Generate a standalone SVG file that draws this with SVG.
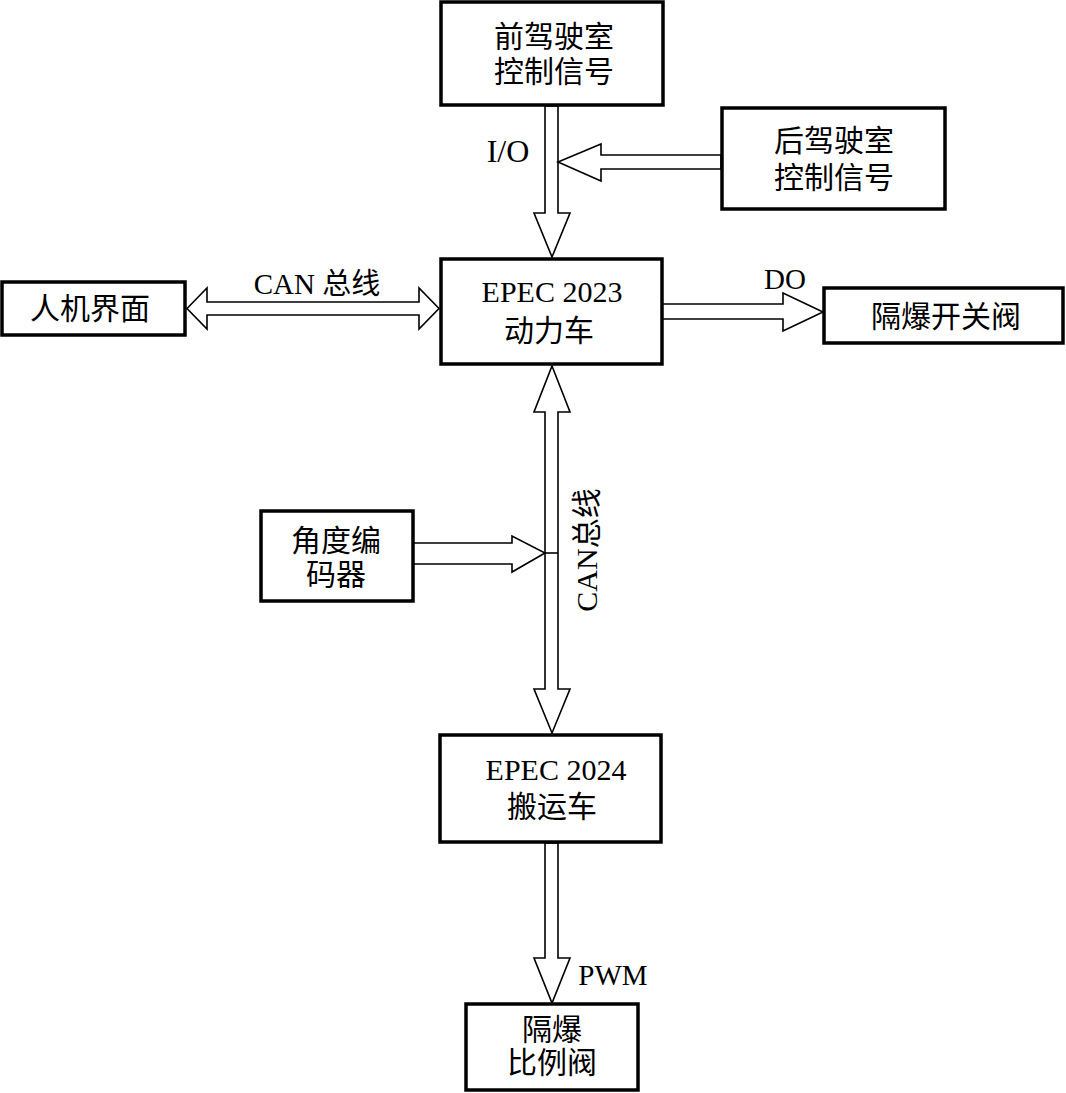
<svg xmlns="http://www.w3.org/2000/svg" width="1066" height="1093" viewBox="0 0 1066 1093">
<style>
.box{fill:#fff;stroke:#000;stroke-width:3.5}
.arr{fill:#fff;stroke:#000;stroke-width:1.6;stroke-linejoin:miter}
.t{font-family:"Liberation Serif","Noto Sans CJK SC",serif;font-size:30px;fill:#000;text-anchor:middle}
.l{font-family:"Liberation Serif","Noto Sans CJK SC",serif;font-size:29px;fill:#000;text-anchor:middle}
</style>
<rect width="1066" height="1093" fill="#fff"/>
<g id="connectors">
<polygon class="arr" points="545,106 545,213 534,213 552,257 570,213 558,213 558,106"/>
<polygon class="arr" points="721,155 601,155 601,144 558,162 601,181 601,169 721,169"/>
<polygon class="arr" points="187,308.5 207,288 207,302 419,302 419,288 439,308.5 419,329 419,315 207,315 207,329"/>
<polygon class="arr" points="662,304 783,304 783,293 823,312 783,331 783,319 662,319"/>
<polygon class="arr" points="552,366 570,412 558,412 558,689 570,689 552,733 534,689 545,689 545,412 534,412"/>
<polygon class="arr" points="413,543 512,543 512,536 545,553 512,572 512,564 413,564"/>
<line x1="545" y1="553" x2="558" y2="553" stroke="#000" stroke-width="1.6"/>
<polygon class="arr" points="545,843 545,958 534,958 552,1003 570,958 558,958 558,843"/>
<text class="l" x="508" y="162" style="font-size:32px">I/O</text>
<text class="l" x="317" y="294">CAN 总线</text>
<text class="l" x="785" y="289">DO</text>
<text class="l" x="613" y="985">PWM</text>
<text class="l" transform="translate(597,550) rotate(-90)" style="font-size:30px">CAN总线</text>
</g>
<g id="front-cab">
<rect class="box" x="441" y="2" width="222" height="103"/>
<text class="t" x="554" y="47">前驾驶室</text>
<text class="t" x="554" y="82">控制信号</text>
</g>
<g id="rear-cab">
<rect class="box" x="722" y="108" width="223" height="101"/>
<text class="t" x="834" y="151">后驾驶室</text>
<text class="t" x="834" y="188">控制信号</text>
</g>
<g id="epec2023">
<rect class="box" x="441" y="259" width="221" height="105"/>
<text class="t" x="552" y="302">EPEC 2023</text>
<text class="t" x="549" y="341">动力车</text>
</g>
<g id="hmi">
<rect class="box" x="2" y="282" width="183" height="53"/>
<text class="t" x="90" y="319">人机界面</text>
</g>
<g id="switch-valve">
<rect class="box" x="824" y="288" width="239" height="55"/>
<text class="t" x="946" y="327">隔爆开关阀</text>
</g>
<g id="encoder">
<rect class="box" x="261" y="511" width="152" height="90"/>
<text class="t" x="336" y="551">角度编</text>
<text class="t" x="336" y="585">码器</text>
</g>
<g id="epec2024">
<rect class="box" x="440" y="735" width="221" height="107"/>
<text class="t" x="556" y="780">EPEC 2024</text>
<text class="t" x="552" y="817">搬运车</text>
</g>
<g id="prop-valve">
<rect class="box" x="466" y="1004" width="172" height="86"/>
<text class="t" x="552" y="1040">隔爆</text>
<text class="t" x="552" y="1073">比例阀</text>
</g>
</svg>
